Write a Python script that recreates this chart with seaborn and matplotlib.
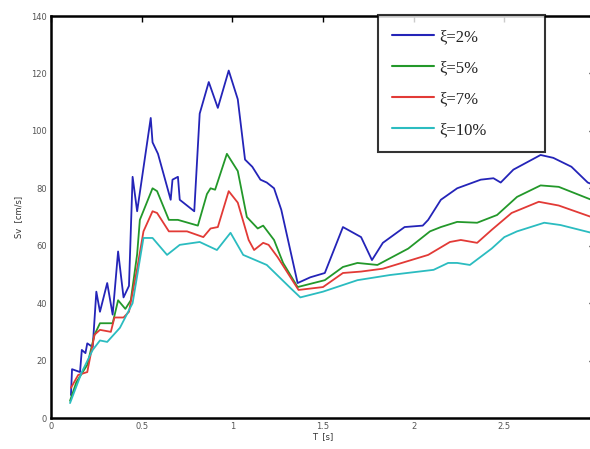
import numpy as np
import pandas as pd
import matplotlib
matplotlib.use("Agg")
import matplotlib.pyplot as plt
import seaborn as sns

labels = ["ξ=2%", "ξ=5%", "ξ=7%", "ξ=10%"]

t_2 = [0.11, 0.116, 0.16, 0.17, 0.19, 0.20, 0.23, 0.25, 0.27, 0.31, 0.34, 0.37, 0.40, 0.43,
       0.45, 0.475, 0.55, 0.56, 0.59, 0.66, 0.67, 0.70, 0.71, 0.79, 0.82, 0.87, 0.92, 0.98,
       1.03, 1.07, 1.11, 1.155, 1.19, 1.23, 1.27, 1.36, 1.43, 1.51, 1.61, 1.71, 1.77, 1.83,
       1.95, 2.05, 2.08, 2.15, 2.24, 2.37, 2.44, 2.48, 2.55, 2.70, 2.77, 2.87, 2.96, 3.0]
sv_2 = [8, 17, 16, 23.7, 22.6, 26, 24.7, 44, 37, 47, 36, 58, 42, 46,
        84, 72, 104.5, 96, 92, 76, 83, 84, 76, 72, 106, 117, 108, 121,
        111, 90, 87.5, 83, 82, 80, 72.5, 47, 49, 50.5, 66.5, 63, 55, 61,
        66.5, 67, 69, 76, 80, 83, 83.5, 82, 86.5, 91.6, 90.6, 87.5, 82, 81]

t_5 = [0.105, 0.14, 0.20, 0.24, 0.27, 0.34, 0.37, 0.41, 0.44, 0.475, 0.49, 0.56, 0.585,
       0.65, 0.70, 0.81, 0.86, 0.88, 0.905, 0.97, 1.03, 1.08, 1.14, 1.17, 1.23, 1.28, 1.36,
       1.51, 1.61, 1.69, 1.80, 1.97, 2.09, 2.15, 2.24, 2.35, 2.46, 2.57, 2.70, 2.80, 2.98]
sv_5 = [6, 12.5, 18.5, 29, 33, 33, 41, 38, 41, 57, 69, 80, 79,
        69, 69, 67, 78, 80, 79.5, 92, 86, 70, 66, 67, 62, 54, 45.6,
        48, 52.6, 54, 53.3, 59, 65, 66.5, 68.3, 68, 70.7, 77, 81, 80.5, 76]

t_7 = [0.11, 0.15, 0.20, 0.24, 0.27, 0.33, 0.35, 0.40, 0.43, 0.475, 0.51, 0.56, 0.585,
       0.65, 0.75, 0.84, 0.88, 0.92, 0.98, 1.03, 1.09, 1.12, 1.17, 1.20, 1.25, 1.365,
       1.50, 1.61, 1.71, 1.83, 2.08, 2.20, 2.26, 2.35, 2.43, 2.54, 2.69, 2.80, 2.98]
sv_7 = [10.5, 15, 16, 29, 30.7, 30, 35, 35, 37, 52, 65, 72, 71.4,
        65, 65, 63, 66, 66.5, 79, 75, 62, 58.5, 61, 60.3, 56, 44.6,
        45.6, 50.5, 51, 52, 56.8, 61.3, 62, 61, 65.5, 71.4, 75.3, 74, 70]

t_10 = [0.105, 0.17, 0.23, 0.27, 0.31, 0.38, 0.45, 0.51, 0.56, 0.64, 0.71, 0.82, 0.915,
        0.99, 1.06, 1.19, 1.32, 1.375, 1.50, 1.69, 1.87, 2.11, 2.19, 2.24, 2.31, 2.43,
        2.50, 2.57, 2.72, 2.81, 2.98]
sv_10 = [5.2, 16, 23.7, 27, 26.5, 31.4, 40, 62.7, 62.7, 56.8, 60.3, 61.3, 58.5,
         64.5, 56.8, 53.3, 45.3, 42, 44, 48, 49.8, 51.6, 54, 54, 53.3, 59,
         63, 65, 68, 67.2, 64.5]

x_ticks = [0, 0.5, 1, 1.5, 2, 2.5]
x_tick_labels = ["0", "0.5", "1", "1.5", "2", "2.5"]
y_ticks = [0, 20, 40, 60, 80, 100, 120, 140]
y_tick_labels = ["0", "20", "40", "60", "80", "100", "120", "140"]

colors = ["#2424b8", "#23982a", "#e23a36", "#2bbcc0"]

frames = []
for lab, t, sv in zip(labels, [t_2, t_5, t_7, t_10], [sv_2, sv_5, sv_7, sv_10]):
    frames.append(pd.DataFrame({"T": t, "Sv": sv, "damping": lab}))
df = pd.concat(frames, ignore_index=True)

sns.set_style("white")
fig = plt.figure(figsize=(5.9, 4.49), dpi=100)
ax = fig.add_axes([51 / 590, 31 / 449, 544 / 590, 402 / 449])

sns.lineplot(data=df, x="T", y="Sv", hue="damping", hue_order=labels,
             palette=colors, estimator=None, sort=True, linewidth=1.3, ax=ax)

ax.set_xlim(0, 3)
ax.set_ylim(0, 140)
ax.set_xticks(x_ticks)
ax.set_xticklabels(x_tick_labels)
ax.set_yticks(y_ticks)
ax.set_yticklabels(y_tick_labels)
ax.tick_params(direction="in", length=4, width=1, colors="black",
               labelcolor="#555555", labelsize=6, top=True, right=True, pad=3)
for s in ax.spines.values():
    s.set_color("black")
    s.set_linewidth(1.8)
ax.set_xlabel("T  [s]", fontsize=6, color="#333333", labelpad=1)
ax.set_ylabel("Sv  [cm/s]", fontsize=6, color="#333333", labelpad=6)

x0, x1 = 378 / 590, 545 / 590
y_top = 1 - 15 / 449
y_bot = 1 - 150 / 449
leg = ax.legend(loc="upper left", bbox_to_anchor=(x0, y_bot, x1 - x0, y_top - y_bot),
                bbox_transform=fig.transFigure, mode="expand", frameon=True,
                fancybox=False, prop={"family": "Liberation Serif", "size": 12},
                handlelength=2.5, labelspacing=0.9, borderpad=0.85,
                handletextpad=0.3, borderaxespad=0)
leg.get_frame().set_edgecolor("black")
leg.get_frame().set_linewidth(1.5)
for txt in leg.get_texts():
    txt.set_color("#222222")
for line in leg.get_lines():
    line.set_linewidth(1.5)

fig.savefig("out.png", dpi=100)
